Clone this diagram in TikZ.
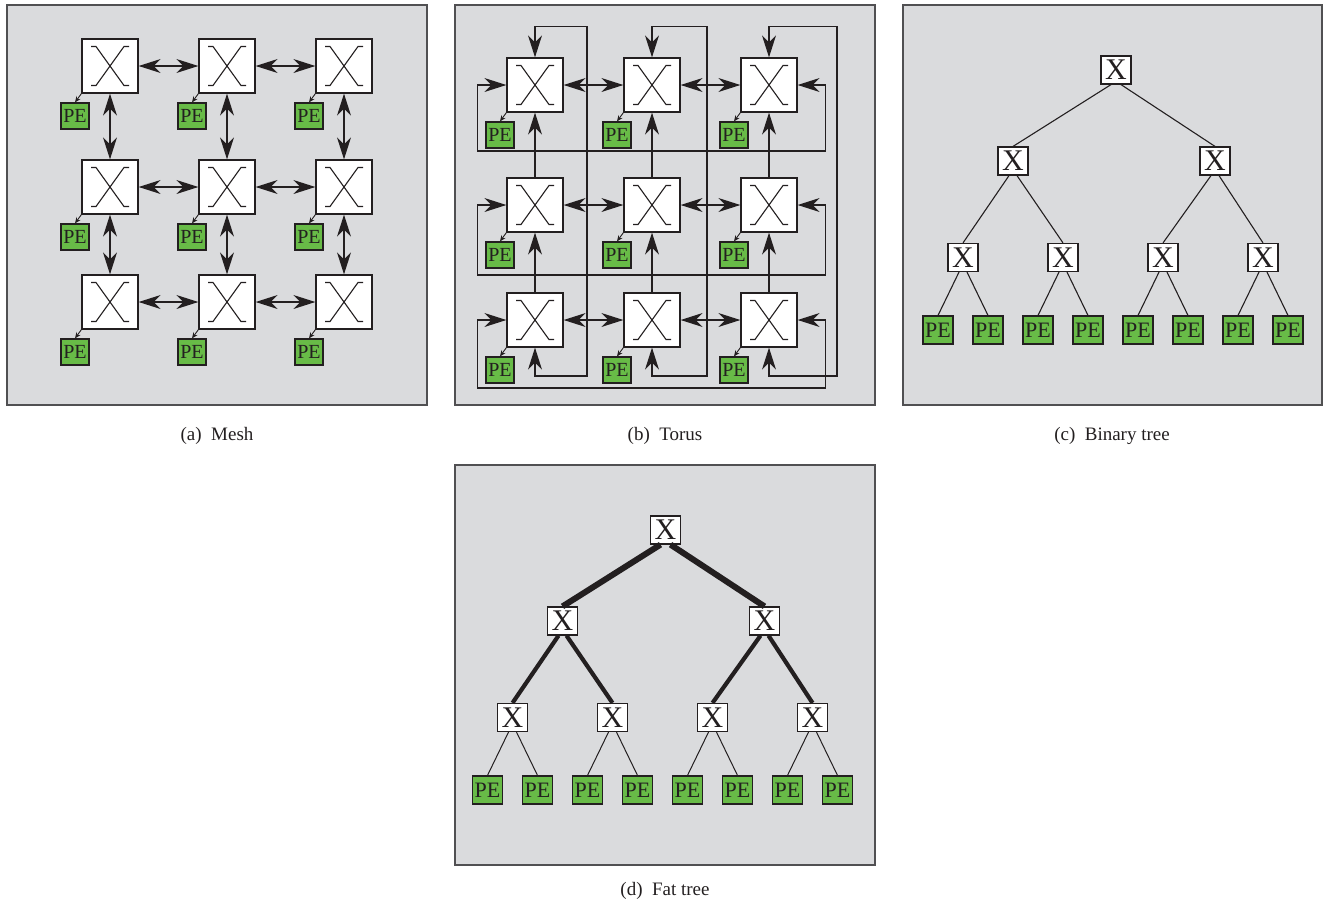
\documentclass[tikz,border=0pt]{standalone}
\usepackage{fontspec}
\setmainfont{Liberation Serif}
\usepackage{tikz}
\usetikzlibrary{arrows.meta}
\definecolor{panelgray}{RGB}{218,219,221}
\definecolor{edgegray}{RGB}{80,80,82}
\definecolor{inkgray}{RGB}{35,31,32}
\definecolor{pegreen}{RGB}{104,187,71}
\tikzset{
  bigtip/.tip={Stealth[length=22pt, width=14pt, inset=7pt]},
  petip/.tip={Stealth[length=6pt, width=5pt]}
}
% tree of switches and PEs, #1 = prefix, #2-#4 = link widths per level
\newcommand{\drawtree}[4]{%
  \node[tsw] (#1-0) at (0,0) {X};
  \node[tsw] (#1-1) at (-103,91) {X};
  \node[tsw] (#1-2) at (99,91) {X};
  \foreach \i/\x in {1/-153,2/-53,3/47,4/147}
    \node[tsw] (#1-a\i) at (\x,187.5) {X};
  \foreach \j in {1,...,8}
    \node[tpe] (#1-p\j) at (-228+50*\j,260) {PE};
  \draw[line width=#2] ([xshift=-5pt]#1-0.south) -- (#1-1.north);
  \draw[line width=#2] ([xshift=5pt]#1-0.south) -- (#1-2.north);
  \foreach \i/\u/\s in {1/1/-4,2/1/4,3/2/-4,4/2/4}
    \draw[line width=#3] ([xshift=\s pt]#1-\u.south) -- (#1-a\i.north);
  \foreach \j/\u/\s in {1/1/-4,2/1/4,3/2/-4,4/2/4,5/3/-4,6/3/4,7/4/-4,8/4/4}
    \draw[line width=#4] ([xshift=\s pt]#1-a\u.south) -- (#1-p\j.north);
}
\begin{document}
\begin{tikzpicture}[x=1pt, y=-1pt, inkgray,
    panel/.style={draw=edgegray, line width=1.3pt, fill=panelgray},
    xbox/.style={draw=inkgray, line width=1.3pt, fill=white, inner sep=0pt,
      minimum width=56pt, minimum height=54pt,
      path picture={\draw[inkgray, line width=1.1pt,
          shift={(path picture bounding box.center)}]
        (-19,-19.5) -- (-14,-19.5) -- (14,19.5) -- (19,19.5)
        (-19,19.5) -- (-14,19.5) -- (14,-19.5) -- (19,-19.5);}},
    pe/.style={draw=inkgray, line width=1.2pt, fill=pegreen, inner sep=0pt,
      minimum width=28pt, minimum height=26pt, text=inkgray,
      font=\fontsize{20}{20}\selectfont},
    link/.style={draw=inkgray, line width=1.2pt},
    twoway/.style={link, bigtip-bigtip},
    oneway/.style={link, -bigtip},
    pelink/.style={draw=inkgray, line width=0.9pt, -petip},
    tsw/.style={draw=inkgray, line width=1.2pt, fill=white, inner sep=0pt,
      minimum width=30pt, minimum height=28pt, font=\fontsize{30}{30}\selectfont},
    tpe/.style={pe, minimum width=30pt, minimum height=28pt,
      font=\fontsize{22}{22}\selectfont},
    caption/.style={font=\fontsize{19}{19}\selectfont}]
  \useasboundingbox (0,0) rectangle (1323,906);

  % (a) Mesh
  \draw[panel] (7,5) rectangle (427,405);
  \foreach \r/\y in {1/66,2/187,3/302}
    \foreach \c/\x in {1/110,2/227,3/344} {
      \node[xbox] (m\r\c) at (\x,\y) {};
      \node[pe] (mp\r\c) at (\x-35,\y+50) {PE};
      \draw[pelink] (m\r\c.south west) -- (mp\r\c.north);
    }
  \foreach \r in {1,2,3} {
    \draw[twoway] (m\r1) -- (m\r2);
    \draw[twoway] (m\r2) -- (m\r3);
  }
  \foreach \c in {1,2,3} {
    \draw[twoway] (m1\c) -- (m2\c);
    \draw[twoway] (m2\c) -- (m3\c);
  }
  \node[caption] (capa) at (217,436) {(a)\enspace Mesh};

  % (b) Torus
  \draw[panel] (455,5) rectangle (875,405);
  \foreach \r/\y in {1/85,2/205,3/320}
    \foreach \c/\x in {1/535,2/652,3/769} {
      \node[xbox] (t\r\c) at (\x,\y) {};
      \node[pe] (tp\r\c) at (\x-35,\y+50) {PE};
      \draw[pelink] (t\r\c.south west) -- (tp\r\c.north);
    }
  \foreach \r in {1,2,3} {
    \draw[twoway] (t\r1) -- (t\r2);
    \draw[twoway] (t\r2) -- (t\r3);
  }
  \foreach \c in {1,2,3} {
    \draw[oneway] (t2\c) -- (t1\c);
    \draw[oneway] (t3\c) -- (t2\c);
  }
  % wrap-around links
  \foreach \r/\d in {1/66,2/70,3/68}
    \draw[twoway] (t\r1.west) -- ++(-29,0) |- ++(348,\d) |- (t\r3.east);
  \foreach \c/\xv in {1/587,2/707,3/837}
    \draw[twoway] (t1\c.north) -- ++(0,-31) -| (\xv,376) -| (t3\c.south);
  \node[caption] (capb) at (665,436) {(b)\enspace Torus};

  % (c) Binary tree
  \draw[panel] (903,5) rectangle (1322,405);
  \begin{scope}[shift={(1116,70)}]
    \drawtree{bt}{1.1pt}{1.1pt}{1.1pt}
  \end{scope}
  \node[caption] (capc) at (1112,436) {(c)\enspace Binary tree};

  % (d) Fat tree
  \draw[panel] (455,465) rectangle (875,865);
  \begin{scope}[shift={(665.5,530)}]
    \drawtree{ft}{6pt}{4.2pt}{1pt}
  \end{scope}
  \node[caption] (capd) at (665,891) {(d)\enspace Fat tree};
\end{tikzpicture}
\end{document}
